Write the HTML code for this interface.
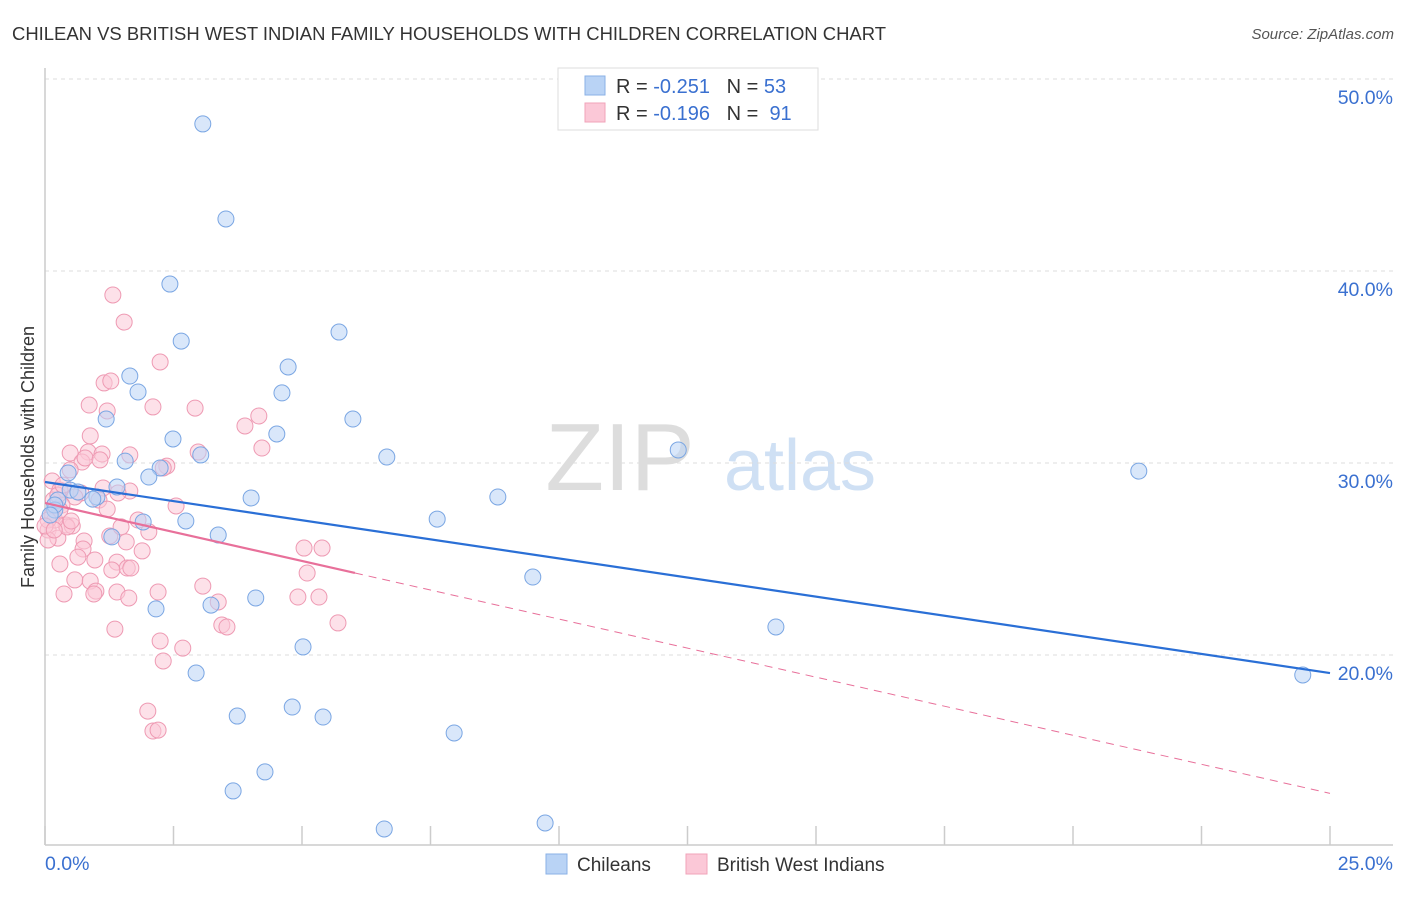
<!DOCTYPE html>
<html><head><meta charset="utf-8"><style>
body{margin:0;background:#fff;font-family:"Liberation Sans",sans-serif}
svg text{font-family:"Liberation Sans",sans-serif}
</style></head><body>
<svg id="chart" width="1406" height="892">
<text x="12" y="40" font-size="18" fill="#333" textLength="874" lengthAdjust="spacingAndGlyphs">CHILEAN VS BRITISH WEST INDIAN FAMILY HOUSEHOLDS WITH CHILDREN CORRELATION CHART</text>
<text x="1394" y="39" font-size="15" fill="#555" text-anchor="end" font-style="italic">Source: ZipAtlas.com</text>
<text x="620" y="490" font-size="96" fill="#ddd" font-family="Liberation Serif" text-anchor="middle">ZIP</text>
<text x="800" y="490" font-size="72" fill="#cfe0f4" text-anchor="middle">atlas</text>
<text transform="translate(34,457) rotate(-90)" font-size="18" fill="#333" text-anchor="middle">Family Households with Children</text>
<g id="grid"></g><g id="pts"></g><g id="lines"></g>
<g>
<rect x="558" y="68" width="260" height="62" fill="#fff" stroke="#ddd"/>
<rect x="585" y="76" width="20" height="19" fill="#b9d3f5" stroke="#8ab0e6"/>
<rect x="585" y="103" width="20" height="19" fill="#fbc8d7" stroke="#f0a3ba"/>
<text x="616" y="93" font-size="20" fill="#333">R = <tspan fill="#3a70d0">-0.251</tspan>&#160;&#160;&#160;N = <tspan fill="#3a70d0">53</tspan></text>
<text x="616" y="120" font-size="20" fill="#333">R = <tspan fill="#3a70d0">-0.196</tspan>&#160;&#160;&#160;N = &#160;<tspan fill="#3a70d0">91</tspan></text>
</g>
<g>
<rect x="546" y="854" width="21" height="20" fill="#b9d3f5" stroke="#8ab0e6"/>
<text x="577" y="871" font-size="19" fill="#333">Chileans</text>
<rect x="686" y="854" width="21" height="20" fill="#fbc8d7" stroke="#f0a3ba"/>
<text x="717" y="871" font-size="19" fill="#333">British West Indians</text>
</g>
<text x="45" y="870" font-size="19.5" fill="#3a70d0">0.0%</text>
<text x="1393" y="870" font-size="19.5" fill="#3a70d0" text-anchor="end">25.0%</text>
</svg>
<script>
const blueX=[3.07,3.52,2.43,2.65,5.72,4.73,1.65,1.81,4.61,1.19,5.99,2.49,4.51,3.03,1.56,6.65,2.24,2.02,12.32,21.28,0.45,0.49,0.64,0.25,1.01,1.40,0.93,4.01,8.81,0.19,1.91,2.74,7.63,3.37,1.30,9.49,2.16,3.23,4.10,14.22,5.02,2.94,24.47,3.74,4.81,5.41,7.96,4.28,3.66,6.60,9.73,0.19,0.10];
const blueY=[47.66,42.71,39.32,36.35,36.82,35.0,34.53,33.7,33.65,32.29,32.29,31.25,31.51,30.42,30.1,30.31,29.74,29.27,30.68,29.58,29.48,28.59,28.49,28.07,28.23,28.75,28.12,28.18,28.23,27.55,26.93,26.98,27.08,26.25,26.15,24.06,22.4,22.6,22.97,21.46,20.42,19.06,18.96,16.82,17.29,16.77,15.94,13.91,12.92,10.94,11.25,27.81,27.29];
const pinkX=[1.32,1.54,2.24,1.15,1.28,0.86,1.21,2.10,2.92,4.16,3.89,0.88,0.49,0.84,1.11,1.65,2.98,0.72,2.37,4.22,2.30,0.14,0.29,0.70,1.13,1.65,0.58,1.05,1.42,2.55,0.16,0.33,1.21,0.41,0.53,0.06,0.25,1.26,1.48,2.02,0.06,0.43,0.76,1.58,0.74,5.04,5.39,0.64,1.89,0.97,1.40,0.29,1.60,1.67,1.30,0.58,0.88,5.10,0.99,3.07,0.37,0.95,1.40,2.20,1.63,3.37,4.92,5.33,3.44,3.54,5.70,1.36,2.24,2.68,2.30,2.00,2.10,2.20,0.14,0.19,0.25,0.29,0.06,0.35,0.49,0.78,1.07,0.51,0.00,0.18,1.81];
const pinkY=[38.75,37.34,35.26,34.17,34.27,33.02,32.71,32.92,32.86,32.45,31.93,31.41,30.52,30.57,30.47,30.42,30.57,30.05,29.84,30.78,29.74,29.06,28.59,28.44,28.70,28.54,28.23,28.07,28.44,27.76,28.07,27.81,27.60,26.77,26.72,26.51,26.09,26.20,26.67,26.41,25.99,26.67,25.94,25.89,25.52,25.57,25.57,25.10,25.42,24.95,24.84,24.74,24.53,24.53,24.43,23.91,23.85,24.27,23.33,23.59,23.18,23.18,23.28,23.28,22.97,22.76,23.02,23.02,21.56,21.46,21.67,21.35,20.73,20.36,19.69,17.08,16.04,16.09,27.29,27.03,28.33,27.55,27.03,28.85,29.64,30.26,30.16,26.98,26.72,26.51,27.03];
const yTicks=[20,30,40,50];
const xTicks=[0,2.5,5,7.5,10,12.5,15,17.5,20,22.5,25];
const blueTrend=[29.01,-0.398];
const pinkTrend=[27.92,-0.605];
const pinkSolidEnd=6.03;
const NS='http://www.w3.org/2000/svg';
const sx=v=>45+v*51.4;
const sy=v=>1039-v*19.2;
function mk(tag,attrs,parent){const e=document.createElementNS(NS,tag);for(const k in attrs)e.setAttribute(k,attrs[k]);parent.appendChild(e);return e;}
const grid=document.getElementById('grid'),pts=document.getElementById('pts'),lines=document.getElementById('lines');
yTicks.forEach(t=>{
 const l=mk('line',{x1:45,x2:1393,y1:sy(t),y2:sy(t),stroke:'#ddd','stroke-dasharray':'4,4'},grid);
 
 
 const tx=mk('text',{x:1393,y:sy(t)+25,'font-size':19.5,fill:'#3a70d0','text-anchor':'end'},grid);
 tx.textContent=t.toFixed(1)+'%';
 
 
});
const ax=mk('line',{x1:45,x2:1393,y1:845,y2:845,stroke:'#ccc','stroke-width':1.5},grid);


const ay=mk('line',{x1:45,x2:45,y1:68,y2:845,stroke:'#ccc','stroke-width':1.5},grid);


xTicks.forEach(t=>{
 const l=mk('line',{x1:sx(t),x2:sx(t),y1:826,y2:845,stroke:'#ccc','stroke-width':1.5},grid);
 
 
});
function dots(X,Y,fill,stroke,name){X.forEach((x,i)=>{
 const c=mk('circle',{cx:sx(x),cy:sy(Y[i]),r:8,fill:fill,'fill-opacity':0.55,stroke:stroke,'stroke-width':1},pts);
 
 
});}
dots(pinkX,pinkY,'#fbc8d7','#ee9ab3','bwi-point');
dots(blueX,blueY,'#b9d3f5','#7aa6e3','chilean-point');
const bl=mk('line',{x1:sx(0),y1:sy(blueTrend[0]),x2:sx(25),y2:sy(blueTrend[0]+25*blueTrend[1]),stroke:'#2a6fd6','stroke-width':2.2},lines);


const pl=mk('line',{x1:sx(0),y1:sy(pinkTrend[0]),x2:sx(pinkSolidEnd),y2:sy(pinkTrend[0]+pinkSolidEnd*pinkTrend[1]),stroke:'#e8709a','stroke-width':2.2},lines);


const pd=mk('line',{x1:sx(pinkSolidEnd),y1:sy(pinkTrend[0]+pinkSolidEnd*pinkTrend[1]),x2:sx(25),y2:sy(pinkTrend[0]+25*pinkTrend[1]),stroke:'#e8709a','stroke-width':1,'stroke-dasharray':'8,6'},lines);


</script>
</body></html>
